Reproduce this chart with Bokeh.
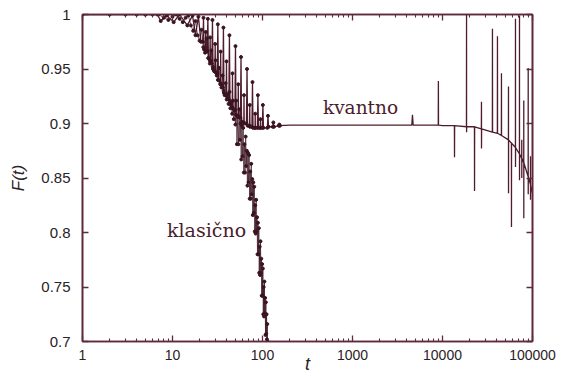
from bokeh.plotting import figure
from bokeh.models import Label, LinearAxis, LogAxis, FixedTicker, PrintfTickFormatter, CustomJSTickFormatter, Range1d
from bokeh.embed import file_html
from bokeh.resources import INLINE

# ---------------- data ----------------
# quantum fidelity F(t): early, strongly oscillating part (drawn with dots)
q_early_t = [1, 5, 6.8, 7.4, 8.6, 10.3, 12.0, 14.6, 16.7, 18.0, 19.4, 20.7,
             21.8, 22.1, 22.4, 23.2, 23.4, 23.6, 24.3, 24.7, 25.1, 26.0, 26.2, 26.4,
             27.4, 27.8, 28.2, 29.6, 29.8, 30.0, 31.4, 31.9, 32.4, 34.1, 34.3, 34.5,
             36.3, 36.8, 37.3, 39.5, 39.8, 40.1, 42.3, 42.9, 43.5, 46.1, 46.4, 46.7,
             49.4, 50.1, 50.8, 53.5, 53.8, 54.1, 56.9, 57.7, 58.5, 62.0, 62.3, 62.6,
             66.3, 67.3, 68.3, 71.9, 72.2, 72.5, 76.3, 77.4, 78.5, 82.7, 83.0, 83.3,
             87.6, 88.9, 90.2, 94.5, 94.8, 95.1, 99.5, 101, 102.5,
             113.3, 115, 116.7, 130, 132, 134, 152, 154, 156]
q_early_f = [1.0, 1.0, 1.0, 0.994, 0.999, 0.993, 1.0, 0.990, 0.999, 0.981, 0.998, 0.975,
             0.975, 0.997, 0.968, 0.967, 0.984, 0.966, 0.966, 0.996, 0.960, 0.958, 0.979, 0.957,
             0.955, 0.995, 0.950, 0.948, 0.973, 0.947, 0.945, 0.991, 0.940, 0.937, 0.966, 0.936,
             0.933, 0.988, 0.928, 0.926, 0.957, 0.925, 0.922, 0.981, 0.918, 0.915, 0.946, 0.914,
             0.912, 0.971, 0.908, 0.907, 0.936, 0.906, 0.905, 0.961, 0.902, 0.901, 0.926, 0.900,
             0.900, 0.950, 0.898, 0.898, 0.917, 0.897, 0.897, 0.938, 0.896, 0.896, 0.909, 0.896,
             0.896, 0.926, 0.896, 0.896, 0.904, 0.896, 0.896, 0.917, 0.896,
             0.896, 0.907, 0.897, 0.897, 0.901, 0.897, 0.898, 0.899, 0.898]
# quantum fidelity F(t): plateau and long-time decay with isolated spikes
q_late_t = [200, 1000,
            4560, 4640, 4720, 8970, 9000, 9030, 10000, 13560, 13600, 13640,
            18450, 18500, 18520, 18560, 22640, 22700, 22760, 27020, 27100, 27130, 27200,
            35800, 35900, 36000, 40700, 40800, 40900, 45100, 45200, 45300,
            54000, 54100, 54150, 54250, 58300, 58400, 58500, 64600, 64700, 64750, 64850,
            71600, 71700, 71750, 71850, 75900, 76000, 76050, 76150, 79900, 80000, 80050, 80150,
            89500, 89600, 89650, 89750, 94900, 95000, 95050, 95150, 100000]
q_late_f = [0.8985, 0.8985,
            0.8985, 0.908, 0.8985, 0.8985, 0.939, 0.8985, 0.898, 0.898, 0.869, 0.898,
            0.897, 1.0, 0.892, 0.897, 0.897, 0.838, 0.897, 0.895, 0.920, 0.877, 0.895,
            0.892, 0.987, 0.892, 0.891, 0.980, 0.891, 0.889, 0.946, 0.889,
            0.885, 0.934, 0.836, 0.885, 0.882, 0.805, 0.882, 0.878, 0.996, 0.860, 0.878,
            0.872, 0.999, 0.848, 0.872, 0.868, 0.885, 0.850, 0.868, 0.864, 0.921, 0.813, 0.864,
            0.851, 0.951, 0.835, 0.851, 0.844, 0.870, 0.830, 0.844, 0.836]

# classical fidelity, sampled at integer times t = 1 .. 114
c_t = list(range(1, 115))
c_f = [1.0, 1.0, 1.0, 1.0, 1.0, 1.0, 1.0,
       0.997, 0.995, 0.998, 1.0, 0.996, 0.993, 0.997,
       0.999, 0.990, 0.985, 0.994, 0.981, 0.976, 0.986,
       0.970, 0.965, 0.978, 0.960, 0.955, 0.967, 0.952,
       0.948, 0.958, 0.944, 0.940, 0.951, 0.936, 0.933,
       0.944, 0.930, 0.926, 0.937, 0.922, 0.927, 0.918,
       0.929, 0.914, 0.920, 0.909, 0.921, 0.904, 0.912,
       0.899, 0.921, 0.881, 0.906, 0.881, 0.913, 0.885,
       0.900, 0.867, 0.898, 0.870, 0.896, 0.855, 0.881,
       0.855, 0.888, 0.861, 0.875, 0.843, 0.873, 0.846,
       0.871, 0.831, 0.856, 0.831, 0.863, 0.835, 0.849,
       0.816, 0.846, 0.818, 0.842, 0.801, 0.825, 0.799,
       0.830, 0.801, 0.814, 0.780, 0.809, 0.780, 0.804,
       0.763, 0.787, 0.761, 0.792, 0.763, 0.776, 0.742,
       0.771, 0.742, 0.767, 0.725, 0.750, 0.723, 0.755,
       0.726, 0.740, 0.706, 0.736, 0.707, 0.725, 0.702,
       0.716, 0.700]

x_major = [1, 10, 100, 1000, 10000, 100000]
x_minor = [m * d for d in [1, 10, 100, 1000, 10000] for m in range(2, 10)]
y_major = [0.7, 0.75, 0.8, 0.85, 0.9, 0.95, 1.0]
y_labels = ["0.7", "0.75", "0.8", "0.85", "0.9", "0.95", "1"]

# ---------------- style ----------------
FRAME = "#5e2a3c"
LINE = "#4e1c2e"
DOT = "#3a1420"
TXT = "#2a2226"
NOTE = "#4a1c2c"

p = figure(width=568, height=376, x_axis_type="log",
           x_range=Range1d(1, 100000), y_range=Range1d(0.7, 1.0),
           output_backend="svg", toolbar_location=None,
           min_border_left=82, min_border_right=36, min_border_top=14, min_border_bottom=34)
p.background_fill_color = "white"
p.border_fill_color = "white"
p.outline_line_color = FRAME
p.outline_line_width = 1.6
p.xgrid.visible = False
p.ygrid.visible = False

def style_axis(ax):
    ax.axis_line_color = FRAME
    ax.axis_line_width = 1.6
    ax.major_tick_line_color = FRAME
    ax.minor_tick_line_color = FRAME
    ax.major_tick_line_width = 1.3
    ax.minor_tick_line_width = 1.1
    ax.major_tick_in = 6
    ax.major_tick_out = 0
    ax.minor_tick_in = 3
    ax.minor_tick_out = 0
    ax.major_label_text_font = "Liberation Sans"
    ax.major_label_text_color = TXT

xax = p.xaxis[0]
style_axis(xax)
xax.major_label_text_font_size = "14px"
xax.major_label_text_line_height = 0.7
xax.ticker = FixedTicker(ticks=x_major, minor_ticks=x_minor)
xax.formatter = PrintfTickFormatter(format="%d")
xax.major_label_standoff = 8
xax.axis_label = "t"
xax.axis_label_text_font = "Liberation Sans"
xax.axis_label_text_font_style = "italic"
xax.axis_label_text_font_size = "18px"
xax.axis_label_text_line_height = 0.6
xax.axis_label_text_color = TXT
xax.axis_label_standoff = -9

yax = p.yaxis[0]
style_axis(yax)
yax.major_label_text_font_size = "15px"
yax.ticker = FixedTicker(ticks=y_major, minor_ticks=[])
yax.major_label_overrides = {v: s for v, s in zip(y_major, y_labels)}
yax.major_label_standoff = 12
yax.axis_label = "F(t)"
yax.axis_label_text_font = "Liberation Sans"
yax.axis_label_text_font_style = "italic"
yax.axis_label_text_font_size = "17px"
yax.axis_label_text_color = TXT
yax.axis_label_standoff = 10

empty = CustomJSTickFormatter(code="return ''")
top = LogAxis(ticker=FixedTicker(ticks=x_major, minor_ticks=x_minor), formatter=empty)
style_axis(top)
top.major_label_standoff = 0
p.add_layout(top, "above")
right = LinearAxis(ticker=FixedTicker(ticks=y_major, minor_ticks=[]), formatter=empty)
style_axis(right)
right.major_label_standoff = 0
p.add_layout(right, "right")

# quantum curve
p.line(q_early_t + q_late_t, q_early_f + q_late_f, line_color=LINE, line_width=1.3)
p.scatter(q_early_t, q_early_f, size=3, marker="circle", fill_color=DOT, line_color=DOT)

# classical curve
p.line(c_t, c_f, line_color=DOT, line_width=0.7)
p.scatter(c_t, c_f, size=3, marker="circle", fill_color=DOT, line_color=DOT)

# annotations
p.add_layout(Label(x=1227, y=0.915, text="kvantno", text_font="DejaVu Serif",
                   text_font_size="18.5px", text_color=NOTE, text_align="center",
                   text_baseline="middle"))
p.add_layout(Label(x=23.9, y=0.802, text="klasično", text_font="DejaVu Serif",
                   text_font_size="19px", text_color=NOTE, text_align="center",
                   text_baseline="middle"))

open("out.html", "w").write(file_html(p, INLINE))
